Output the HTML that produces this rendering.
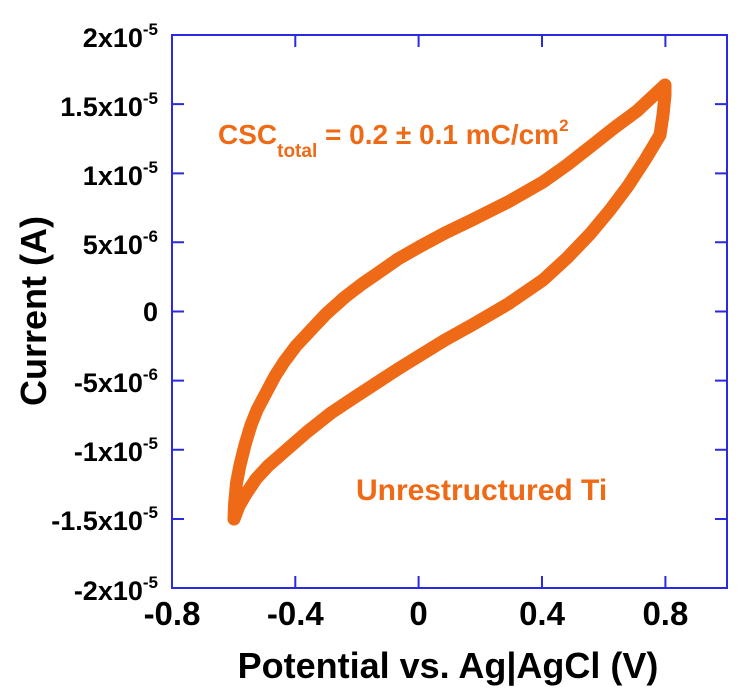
<!DOCTYPE html>
<html><head><style>body{margin:0;background:#fff}svg{display:block}</style></head><body>
<svg width="740" height="689" viewBox="0 0 740 689" xmlns="http://www.w3.org/2000/svg" font-family="Liberation Sans, Arial, sans-serif" font-weight="bold">
<rect x="172" y="35" width="555" height="553" fill="none" stroke="#2a2ae0" stroke-width="2"/>
<g stroke="#2a2ae0" stroke-width="2">
<path d="M295.3,588v-12M418.6,588v-12M542,588v-12M665.4,588v-12M295.3,35v12M418.6,35v12M542,35v12M665.4,35v12"/>
<path d="M172,104.1h12M172,173.4h12M172,242.2h12M172,311.5h12M172,380.6h12M172,449.8h12M172,519h12M727,104.1h-12M727,173.4h-12M727,242.2h-12M727,311.5h-12M727,380.6h-12M727,449.8h-12M727,519h-12"/>
</g>
<polyline fill="none" stroke="#ee6a16" stroke-width="13" stroke-linejoin="round" stroke-linecap="round" points="234,519 234.5,505 236.5,483 240,465 245,445 251,425 257,410 266,393 275,376 284,362 296,346 310,331 326,314 345,297 362,284 378,273 398,259 419,247 445,233 472,220 508,202 543,182 567,165 590,147 614,128 637,111 652,97 665,85 665,95 663,115 660,135 645,160 628,186 610,210 590,234 567,258 543,280 508,304 472,325 445,340 419,356 398,369 378,382 355,397 331,413 307,432 284,452 268,466 256,479 246,494 239,506 234,519"/>
<g font-size="27" text-anchor="end" fill="#000">
<text x="158" y="47">2x10<tspan dy="-12" font-size="17">-5</tspan></text>
<text x="158" y="116">1.5x10<tspan dy="-12" font-size="17">-5</tspan></text>
<text x="158" y="185">1x10<tspan dy="-12" font-size="17">-5</tspan></text>
<text x="158" y="254">5x10<tspan dy="-12" font-size="17">-6</tspan></text>
<text x="158" y="321">0</text>
<text x="158" y="392">-5x10<tspan dy="-12" font-size="17">-6</tspan></text>
<text x="158" y="461">-1x10<tspan dy="-12" font-size="17">-5</tspan></text>
<text x="158" y="530">-1.5x10<tspan dy="-12" font-size="17">-5</tspan></text>
<text x="158" y="600">-2x10<tspan dy="-12" font-size="17">-5</tspan></text>
</g>
<g font-size="33" text-anchor="middle" fill="#000">
<text x="172" y="625">-0.8</text>
<text x="295.3" y="625">-0.4</text>
<text x="418.6" y="625">0</text>
<text x="542" y="625">0.4</text>
<text x="665.4" y="625">0.8</text>
</g>
<text x="448" y="678" font-size="36" text-anchor="middle">Potential vs. Ag|AgCl (V)</text>
<text transform="translate(46,311) rotate(-90)" font-size="36" text-anchor="middle">Current (A)</text>
<text x="218" y="144" font-size="28" fill="#ee6a16">CSC<tspan dy="13" font-size="19">total</tspan><tspan dy="-13"> = 0.2 ± 0.1 mC/cm</tspan><tspan dy="-13" font-size="17">2</tspan></text>
<text x="356" y="500" font-size="30" fill="#ee6a16">Unrestructured Ti</text>
</svg>
</body></html>
